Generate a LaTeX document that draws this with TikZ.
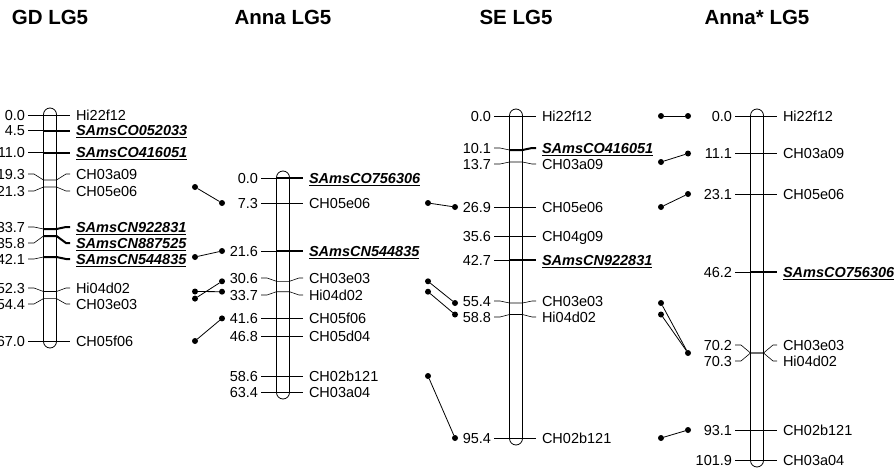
\documentclass[tikz,border=0pt]{standalone}
\usepackage{fontspec}
\setmainfont{Liberation Sans}
\usepackage{tikz}

\begin{document}
\begin{tikzpicture}[x=1pt, y=-1pt,
		every node/.style={inner sep=0pt, outer sep=0pt},
		title/.style={font=\fontsize{20.5}{22}\selectfont\bfseries, text height=14.8pt, text depth=0pt},
		chrom/.style={
			draw,
			rectangle,
			rounded corners=6.5pt,
			minimum width=13pt,
			line width=0.8pt
		},
		num/.style={anchor=east, font=\fontsize{14.5}{16}\selectfont, text height=10.4pt, text depth=0pt},
		lbl/.style={anchor=west, font=\fontsize{14.5}{16}\selectfont, text height=10.4pt, text depth=0pt},
		key/.style={anchor=west, font=\fontsize{14.5}{16}\selectfont\bfseries\itshape, text height=10.4pt, text depth=0pt},
		tick/.style={line width=0.6pt},
		keytick/.style={line width=2pt},
		dot/.style={circle, fill=black, minimum size=6pt},
		homol/.style={line width=0.8pt}
		]
		
		\useasboundingbox (0,0) rectangle (894,474);
		
		% --- GD LG5 ---
		\node[title] (gdT) at (50,17) {GD LG5};
		\node[chrom, minimum height=240pt] (gdBar) at (50,228) {};
		
		\node[num] (gd1) at (25,115) {0.0};
		\node[lbl] (gdHi22) at (76,115) {Hi22f12};
		\draw[tick] ([xshift=3pt]gd1.east) -- ([xshift=-6pt]gdHi22.west);
		
		\node[num] (gd2) at (25,130.5) {4.5};
		\node[key] (gdCO052) at (76,130.5) {\underline{SAmsCO052033}};
		\draw[tick] ([xshift=3pt]gd2.east) -- (43.5,130.5);
		\draw[keytick] (43.5,130.5) -- ([xshift=-6pt]gdCO052.west);
		
		\node[num] (gd3) at (25,152.5) {11.0};
		\node[key] (gdCO416) at (76,152.5) {\underline{SAmsCO416051}};
		\draw[tick] ([xshift=3pt]gd3.east) -- (43.5,152.5);
		\draw[keytick] (43.5,152.5) -- ([xshift=-6pt]gdCO416.west);
		
		\node[num] (gd4) at (25,174) {19.3};
		\node[lbl] (gdA09) at (76,174) {CH03a09};
		\draw[tick] ([xshift=3pt]gd4.east) -- (34,174) -- (43.5,180) -- (56.5,180) -- (66,174) -- ([xshift=-6pt]gdA09.west);
		
		\node[num] (gd5) at (25,191) {21.3};
		\node[lbl] (gdE06) at (76,191) {CH05e06};
		\draw[tick] ([xshift=3pt]gd5.east) -- (34,191) -- (43.5,187) -- (56.5,187) -- (66,191) -- ([xshift=-6pt]gdE06.west);
		
		\node[num] (gd6) at (25,227) {33.7};
		\node[key] (gdCN922) at (76,227) {\underline{SAmsCN922831}};
		\draw[tick] ([xshift=3pt]gd6.east) -- (34,227) -- (43.5,229);
		\draw[keytick] (43.5,229) -- (56.5,229) -- (66,227) -- ([xshift=-6pt]gdCN922.west);
		
		\node[num] (gd7) at (25,243) {35.8};
		\node[key] (gdCN887) at (76,243) {\underline{SAmsCN887525}};
		\draw[tick] ([xshift=3pt]gd7.east) -- (34,243) -- (43.5,236);
		\draw[keytick] (43.5,236) -- (56.5,236) -- (66,243) -- ([xshift=-6pt]gdCN887.west);
		
		\node[num] (gd8) at (25,259) {42.1};
		\node[key] (gdCN544) at (76,259) {\underline{SAmsCN544835}};
		\draw[tick] ([xshift=3pt]gd8.east) -- (34,259) -- (43.5,257);
		\draw[keytick] (43.5,257) -- (56.5,257) -- (66,259) -- ([xshift=-6pt]gdCN544.west);
		
		\node[num] (gd9) at (25,288) {52.3};
		\node[lbl] (gdD02) at (76,288) {Hi04d02};
		\draw[tick] ([xshift=3pt]gd9.east) -- (34,288) -- (43.5,291.5) -- (56.5,291.5) -- (66,288) -- ([xshift=-6pt]gdD02.west);
		
		\node[num] (gd10) at (25,304) {54.4};
		\node[lbl] (gdE03) at (76,304) {CH03e03};
		\draw[tick] ([xshift=3pt]gd10.east) -- (34,304) -- (43.5,298.6) -- (56.5,298.6) -- (66,304) -- ([xshift=-6pt]gdE03.west);
		
		\node[num] (gd11) at (25,341) {67.0};
		\node[lbl] (gdF06) at (76,341) {CH05f06};
		\draw[tick] ([xshift=3pt]gd11.east) -- ([xshift=-6pt]gdF06.west);
		
		% --- Anna LG5 ---
		\node[title] (anT) at (283,17) {Anna LG5};
		\node[chrom, minimum height=228pt] (anBar) at (283,285) {};
		
		\node[num] (an1) at (258,178) {0.0};
		\node[key] (anCO756) at (309,178) {\underline{SAmsCO756306}};
		\draw[tick] ([xshift=3pt]an1.east) -- (276.5,178);
		\draw[keytick] (276.5,178) -- ([xshift=-6pt]anCO756.west);
		
		\node[num] (an2) at (258,203) {7.3};
		\node[lbl] (anE06) at (309,203) {CH05e06};
		\draw[tick] ([xshift=3pt]an2.east) -- ([xshift=-6pt]anE06.west);
		
		\node[num] (an3) at (258,251) {21.6};
		\node[key] (anCN544) at (309,251) {\underline{SAmsCN544835}};
		\draw[tick] ([xshift=3pt]an3.east) -- (276.5,251);
		\draw[keytick] (276.5,251) -- ([xshift=-6pt]anCN544.west);
		
		\node[num] (an4) at (258,278) {30.6};
		\node[lbl] (anE03) at (309,278) {CH03e03};
		\draw[tick] ([xshift=3pt]an4.east) -- (267,278) -- (276.5,281.3) -- (289.5,281.3) -- (299,278) -- ([xshift=-6pt]anE03.west);
		
		\node[num] (an5) at (258,295) {33.7};
		\node[lbl] (anD02) at (309,295) {Hi04d02};
		\draw[tick] ([xshift=3pt]an5.east) -- (267,295) -- (276.5,291.7) -- (289.5,291.7) -- (299,295) -- ([xshift=-6pt]anD02.west);
		
		\node[num] (an6) at (258,318) {41.6};
		\node[lbl] (anF06) at (309,318) {CH05f06};
		\draw[tick] ([xshift=3pt]an6.east) -- ([xshift=-6pt]anF06.west);
		
		\node[num] (an7) at (258,336.5) {46.8};
		\node[lbl] (anD04) at (309,336.5) {CH05d04};
		\draw[tick] ([xshift=3pt]an7.east) -- ([xshift=-6pt]anD04.west);
		
		\node[num] (an8) at (258,376) {58.6};
		\node[lbl] (anB121) at (309,376) {CH02b121};
		\draw[tick] ([xshift=3pt]an8.east) -- ([xshift=-6pt]anB121.west);
		
		\node[num] (an9) at (258,392) {63.4};
		\node[lbl] (anA04) at (309,392) {CH03a04};
		\draw[tick] ([xshift=3pt]an9.east) -- ([xshift=-6pt]anA04.west);
		
		% --- SE LG5 ---
		\node[title] (seT) at (516,17) {SE LG5};
		\node[chrom, minimum height=336pt] (seBar) at (516,277) {};
		
		\node[num] (se1) at (491,116) {0.0};
		\node[lbl] (seHi22) at (542,116) {Hi22f12};
		\draw[tick] ([xshift=3pt]se1.east) -- ([xshift=-6pt]seHi22.west);
		
		\node[num] (se2) at (491,148) {10.1};
		\node[key] (seCO416) at (542,148) {\underline{SAmsCO416051}};
		\draw[tick] ([xshift=3pt]se2.east) -- (500,148) -- (509.5,150);
		\draw[keytick] (509.5,150) -- (522.5,150) -- (532,148) -- ([xshift=-6pt]seCO416.west);
		
		\node[num] (se3) at (491,164) {13.7};
		\node[lbl] (seA09) at (542,164) {CH03a09};
		\draw[tick] ([xshift=3pt]se3.east) -- (500,164) -- (509.5,162) -- (522.5,162) -- (532,164) -- ([xshift=-6pt]seA09.west);
		
		\node[num] (se4) at (491,207) {26.9};
		\node[lbl] (seE06) at (542,207) {CH05e06};
		\draw[tick] ([xshift=3pt]se4.east) -- ([xshift=-6pt]seE06.west);
		
		\node[num] (se5) at (491,236) {35.6};
		\node[lbl] (seG09) at (542,236) {CH04g09};
		\draw[tick] ([xshift=3pt]se5.east) -- ([xshift=-6pt]seG09.west);
		
		\node[num] (se6) at (491,260) {42.7};
		\node[key] (seCN922) at (542,260) {\underline{SAmsCN922831}};
		\draw[tick] ([xshift=3pt]se6.east) -- (509.5,260);
		\draw[keytick] (509.5,260) -- ([xshift=-6pt]seCN922.west);
		
		\node[num] (se7) at (491,301) {55.4};
		\node[lbl] (seE03) at (542,301) {CH03e03};
		\draw[tick] ([xshift=3pt]se7.east) -- (500,301) -- (509.5,303) -- (522.5,303) -- (532,301) -- ([xshift=-6pt]seE03.west);
		
		\node[num] (se8) at (491,317) {58.8};
		\node[lbl] (seD02) at (542,317) {Hi04d02};
		\draw[tick] ([xshift=3pt]se8.east) -- (500,317) -- (509.5,314.5) -- (522.5,314.5) -- (532,317) -- ([xshift=-6pt]seD02.west);
		
		\node[num] (se9) at (491,438) {95.4};
		\node[lbl] (seB121) at (542,438) {CH02b121};
		\draw[tick] ([xshift=3pt]se9.east) -- ([xshift=-6pt]seB121.west);
		
		% --- Anna* LG5 ---
		\node[title] (asT) at (757,17) {Anna* LG5};
		\node[chrom, minimum height=358pt] (asBar) at (757,288) {};
		
		\node[num] (as1) at (732,116) {0.0};
		\node[lbl] (asHi22) at (783,116) {Hi22f12};
		\draw[tick] ([xshift=3pt]as1.east) -- ([xshift=-6pt]asHi22.west);
		
		\node[num] (as2) at (732,153.5) {11.1};
		\node[lbl] (asA09) at (783,153.5) {CH03a09};
		\draw[tick] ([xshift=3pt]as2.east) -- ([xshift=-6pt]asA09.west);
		
		\node[num] (as3) at (732,194) {23.1};
		\node[lbl] (asE06) at (783,194) {CH05e06};
		\draw[tick] ([xshift=3pt]as3.east) -- ([xshift=-6pt]asE06.west);
		
		\node[num] (as4) at (732,272) {46.2};
		\node[key] (asCO756) at (783,272) {\underline{SAmsCO756306}};
		\draw[tick] ([xshift=3pt]as4.east) -- (750.5,272);
		\draw[keytick] (750.5,272) -- ([xshift=-6pt]asCO756.west);
		
		\node[num] (as5) at (732,345) {70.2};
		\node[lbl] (asE03) at (783,345) {CH03e03};
		\draw[tick] ([xshift=3pt]as5.east) -- (741,345) -- (750.5,353) -- (763.5,353) -- (773,345) -- ([xshift=-6pt]asE03.west);
		
		\node[num] (as6) at (732,361) {70.3};
		\node[lbl] (asD02) at (783,361) {Hi04d02};
		\draw[tick] ([xshift=3pt]as6.east) -- (741,361) -- (750.5,353) -- (763.5,353) -- (773,361) -- ([xshift=-6pt]asD02.west);
		
		\node[num] (as7) at (732,430) {93.1};
		\node[lbl] (asB121) at (783,430) {CH02b121};
		\draw[tick] ([xshift=3pt]as7.east) -- ([xshift=-6pt]asB121.west);
		
		\node[num] (as8) at (732,460) {101.9};
		\node[lbl] (asA04) at (783,460) {CH03a04};
		\draw[tick] ([xshift=3pt]as8.east) -- ([xshift=-6pt]asA04.west);
		
		% --- Homology links GD -> Anna ---
		\node[dot] (l1a) at (195,187) {};
		\node[dot] (l1b) at (222,203) {};
		\node[dot] (l2a) at (195,257) {};
		\node[dot] (l2b) at (222,251) {};
		\node[dot] (l3a) at (195,291.5) {};
		\node[dot] (l3b) at (222,291.7) {};
		\node[dot] (l4a) at (195,298.6) {};
		\node[dot] (l4b) at (222,281.3) {};
		\node[dot] (l5a) at (195,341) {};
		\node[dot] (l5b) at (222,318.4) {};
		\draw[homol] (l1a) -- (l1b);
		\draw[homol] (l2a) -- (l2b);
		\draw[homol] (l3a) -- (l3b);
		\draw[homol] (l4a) -- (l4b);
		\draw[homol] (l5a) -- (l5b);
		
		% --- Homology links Anna -> SE ---
		\node[dot] (m1a) at (428,203) {};
		\node[dot] (m1b) at (455,207) {};
		\node[dot] (m2a) at (428,281.3) {};
		\node[dot] (m2b) at (455,303) {};
		\node[dot] (m3a) at (428,291.7) {};
		\node[dot] (m3b) at (455,314.5) {};
		\node[dot] (m4a) at (428,376) {};
		\node[dot] (m4b) at (455,438) {};
		\draw[homol] (m1a) -- (m1b);
		\draw[homol] (m2a) -- (m2b);
		\draw[homol] (m3a) -- (m3b);
		\draw[homol] (m4a) -- (m4b);
		
		% --- Homology links SE -> Anna* ---
		\node[dot] (r1a) at (661,116) {};
		\node[dot] (r1b) at (688,116) {};
		\node[dot] (r2a) at (661,162) {};
		\node[dot] (r2b) at (688,153.5) {};
		\node[dot] (r3a) at (661,207) {};
		\node[dot] (r3b) at (688,194) {};
		\node[dot] (r4a) at (661,303) {};
		\node[dot] (r5a) at (661,314.5) {};
		\node[dot] (r45b) at (688,353) {};
		\node[dot] (r6a) at (661,438) {};
		\node[dot] (r6b) at (688,430) {};
		\draw[homol] (r1a) -- (r1b);
		\draw[homol] (r2a) -- (r2b);
		\draw[homol] (r3a) -- (r3b);
		\draw[homol] (r4a) -- (r45b);
		\draw[homol] (r5a) -- (r45b);
		\draw[homol] (r6a) -- (r6b);
		
	\end{tikzpicture}
\end{document}
